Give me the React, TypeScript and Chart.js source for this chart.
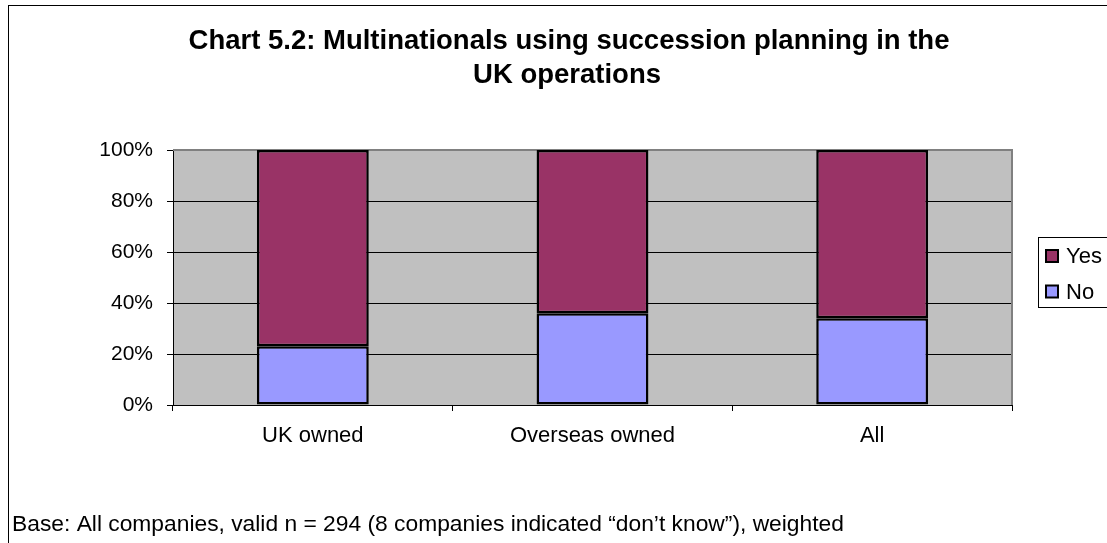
import React, { useEffect, useRef } from "react";
import { Chart, registerables } from "chart.js";

Chart.register(...registerables);

const categories = ["UK owned", "Overseas owned", "All"];
const yesValues = [77, 64, 66];
const noValues = [23, 36, 34];
const yTickStep = 20;
const yMax = 100;
const titleLines = [
  "Chart 5.2: Multinationals using succession planning in the",
  "UK operations",
];
const footnote =
  "Base: All companies, valid n = 294 (8 companies indicated \u201cdon\u2019t know\u201d), weighted";
const seriesNames = ["No", "Yes"];
const seriesColors = ["#9999FF", "#993366"];

const W = 1107;
const H = 543;
const FONT = "Arial, 'Liberation Sans', sans-serif";

const decorPlugin = {
  id: "decor",
  beforeDraw(chart: any) {
    const { ctx, chartArea } = chart;
    ctx.save();
    ctx.fillStyle = "#ffffff";
    ctx.fillRect(0, 0, chart.width, chart.height);
    ctx.fillStyle = "#C0C0C0";
    ctx.fillRect(
      chartArea.left,
      chartArea.top,
      chartArea.right - chartArea.left,
      chartArea.bottom - chartArea.top
    );
    // outer frame
    ctx.strokeStyle = "#000";
    ctx.lineWidth = 1;
    ctx.strokeRect(8.5, 5.5, chart.width + 20, chart.height + 20);
    ctx.restore();
  },
  beforeDatasetsDraw(chart: any) {
    const { ctx, chartArea } = chart;
    ctx.save();
    ctx.strokeStyle = "#808080";
    ctx.lineWidth = 2;
    ctx.beginPath();
    ctx.moveTo(chartArea.left, chartArea.top);
    ctx.lineTo(chartArea.right, chartArea.top);
    ctx.lineTo(chartArea.right, chartArea.bottom);
    ctx.stroke();
    ctx.restore();
  },
  afterDraw(chart: any) {
    const { ctx } = chart;
    ctx.save();
    // title
    ctx.fillStyle = "#000";
    ctx.textAlign = "center";
    ctx.textBaseline = "alphabetic";
    ctx.font = `bold 27.5px ${FONT}`;
    ctx.fillText(titleLines[0], 569, 49);
    ctx.fillText(titleLines[1], 567, 83);
    // footnote
    ctx.textAlign = "left";
    ctx.font = `22.8px ${FONT}`;
    ctx.fillText(footnote, 12, 530.5);
    // legend
    const lx = 1038.5;
    const ly = 237.5;
    ctx.strokeStyle = "#000";
    ctx.lineWidth = 1;
    ctx.strokeRect(lx, ly, 100, 70);
    const order = [1, 0];
    const centers = [256, 291.5];
    ctx.font = `22px ${FONT}`;
    ctx.textBaseline = "middle";
    order.forEach((di, i) => {
      const ds = chart.data.datasets[di];
      const cy = centers[i];
      ctx.fillStyle = ds.backgroundColor;
      ctx.fillRect(1046, cy - 6, 12, 12);
      ctx.strokeStyle = "#000";
      ctx.lineWidth = 2;
      ctx.strokeRect(1046, cy - 6, 12, 12);
      ctx.fillStyle = "#000";
      ctx.fillText(ds.label, 1066, cy + 1);
    });
    ctx.restore();
  },
};

export default function App() {
  const ref = useRef<HTMLCanvasElement | null>(null);

  useEffect(() => {
    if (!ref.current) return;
    const chart = new Chart(ref.current, {
      type: "bar",
      data: {
        labels: categories,
        datasets: [
          {
            label: seriesNames[0],
            data: noValues,
            backgroundColor: seriesColors[0],
            borderColor: "#000",
            borderWidth: 2.5,
            borderSkipped: false,
            barPercentage: 0.4,
            categoryPercentage: 1.0,
          },
          {
            label: seriesNames[1],
            data: yesValues,
            backgroundColor: seriesColors[1],
            borderColor: "#000",
            borderWidth: 2.5,
            borderSkipped: false,
            barPercentage: 0.4,
            categoryPercentage: 1.0,
          },
        ],
      },
      options: {
        responsive: false,
        animation: false,
        layout: { padding: { left: 0, right: 95, top: 150, bottom: 88 } },
        plugins: {
          legend: { display: false },
          title: { display: false },
          tooltip: { enabled: false },
        },
        scales: {
          x: {
            stacked: true,
            afterFit: (s: any) => {
              s.height = 50;
            },
            grid: {
              offset: true,
              drawOnChartArea: false,
              drawTicks: true,
              tickLength: 6,
              tickColor: "#000",
            },
            border: { display: true, color: "#000", width: 1 },
            ticks: {
              color: "#000",
              font: { family: FONT, size: 22 },
              padding: 12,
              maxRotation: 0,
            },
          },
          y: {
            stacked: true,
            min: 0,
            max: yMax,
            afterFit: (s: any) => {
              s.width = 173;
            },
            grid: {
              color: (c: any) =>
                c.tick && c.tick.value === yMax
                  ? "rgba(0,0,0,0)"
                  : c.tick && c.tick.value === 0
                  ? "rgba(0,0,0,0)"
                  : "#000",
              lineWidth: 1,
              drawTicks: true,
              tickLength: 6,
              tickColor: "#000",
            },
            border: { display: true, color: "#000", width: 1 },
            ticks: {
              stepSize: yTickStep,
              color: "#000",
              font: { family: FONT, size: 21 },
              padding: 14,
              callback: (v: any) => `${v}%`,
            },
          },
        },
      },
      plugins: [decorPlugin],
    });
    return () => chart.destroy();
  }, []);

  return (
    <div
      style={{
        position: "fixed",
        left: 0,
        top: 0,
        width: W,
        height: H,
        overflow: "hidden",
        background: "#fff",
      }}
    >
      <canvas ref={ref} width={W} height={H} style={{ width: W, height: H, display: "block" }} />
    </div>
  );
}
